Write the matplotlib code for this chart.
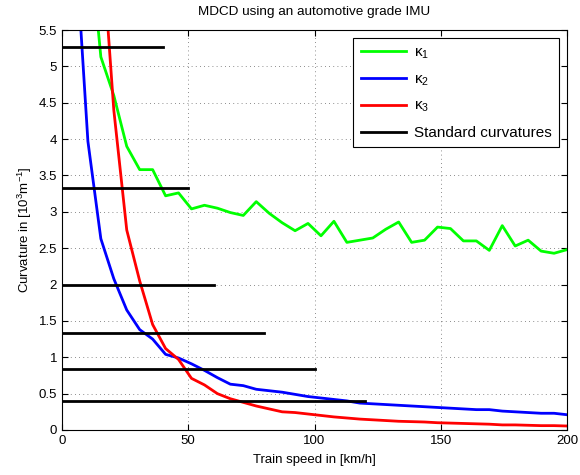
import numpy as np
import matplotlib
matplotlib.use('Agg')
from matplotlib import pyplot as plt

plt.rcParams['font.family'] = ['Liberation Sans', 'DejaVu Sans']
plt.rcParams['mathtext.fontset'] = 'custom'
plt.rcParams['mathtext.rm'] = 'Liberation Sans'
plt.rcParams['mathtext.it'] = 'Liberation Sans'
plt.rcParams['mathtext.default'] = 'regular'

# speed samples (km/h)
speed = np.linspace(0, 200, 40)

kappa1 = [30.0, 14.0, 7.0, 5.13, 4.6, 3.90, 3.58, 3.58, 3.22, 3.26,
          3.04, 3.09, 3.05, 2.99, 2.95, 3.14, 2.98, 2.85, 2.74, 2.84,
          2.67, 2.87, 2.58, 2.61, 2.64, 2.76, 2.86, 2.58, 2.61, 2.79,
          2.77, 2.60, 2.60, 2.47, 2.81, 2.53, 2.61, 2.46, 2.43, 2.48]

kappa2 = [30.0, 6.8, 3.97, 2.63, 2.08, 1.65, 1.38, 1.25, 1.04, 0.99,
          0.91, 0.82, 0.72, 0.63, 0.61, 0.56, 0.54, 0.52, 0.49, 0.46,
          0.44, 0.42, 0.40, 0.37, 0.36, 0.35, 0.34, 0.33, 0.32, 0.31,
          0.30, 0.29, 0.28, 0.28, 0.26, 0.25, 0.24, 0.23, 0.23, 0.21]

kappa3 = [60.0, 25.0, 12.0, 6.9, 4.4, 2.75, 2.05, 1.45, 1.12, 0.97,
          0.71, 0.62, 0.50, 0.43, 0.38, 0.33, 0.29, 0.25, 0.24, 0.22,
          0.20, 0.18, 0.165, 0.15, 0.14, 0.13, 0.12, 0.115, 0.11, 0.10,
          0.095, 0.09, 0.085, 0.08, 0.07, 0.07, 0.065, 0.06, 0.06, 0.055]

# standard curvatures 1/R and the speeds they apply up to
std_radius = [190, 300, 500, 750, 1200, 2500]
std_speed = [40, 50, 60, 80, 100, 120]

fig = plt.figure(figsize=(5.8, 4.75), dpi=100)
ax = fig.add_axes([62/580, 45/475, 505/580, 400/475])

ax.plot(speed, kappa1, color=(0, 1, 0), lw=2, label=r'$\kappa_1$')
ax.plot(speed, kappa2, color=(0, 0, 1), lw=2, label=r'$\kappa_2$')
ax.plot(speed, kappa3, color=(1, 0, 0), lw=2, label=r'$\kappa_3$')
for i in range(len(std_radius)):
    c = 1000.0 / std_radius[i]
    lab = 'Standard curvatures' if i == 0 else None
    ax.plot([0, std_speed[i]], [c, c], color='k', lw=2, label=lab)

ax.set_xlim(0, 200)
ax.set_ylim(0, 5.5)
ax.set_xticks([0, 50, 100, 150, 200])
ax.set_yticks(np.arange(0, 5.51, 0.5))
ax.set_yticklabels(['0', '0.5', '1', '1.5', '2', '2.5', '3', '3.5', '4', '4.5', '5', '5.5'])
ax.grid(True, linestyle=(0, (1, 4)), color='k', lw=0.6, alpha=0.6)
ax.tick_params(direction='in', labelsize=9.5, top=True, right=True, length=4)
ax.set_xlabel('Train speed in [km/h]', fontsize=9.5, labelpad=5)
ax.set_ylabel(r'Curvature in [10$^3$m$^{-1}$]', fontsize=9.5, labelpad=3)
ax.set_title('MDCD using an automotive grade IMU', fontsize=9.7, pad=11)

leg = ax.legend(loc='upper right', fontsize=11, fancybox=False, framealpha=1,
                edgecolor='k', labelspacing=0.75, handlelength=3.0,
                handletextpad=0.5, borderpad=0.5,
                borderaxespad=0.5, bbox_to_anchor=(1.0, 1.0))
leg.get_frame().set_linewidth(0.8)

fig.savefig('out.png', dpi=100)
